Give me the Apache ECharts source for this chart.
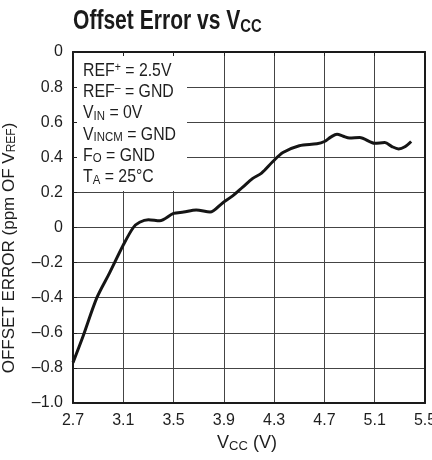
<!DOCTYPE html>
<html><head><meta charset="utf-8">
<script src="https://cdn.jsdelivr.net/npm/echarts@6/dist/echarts.min.js"></script>
<style>html,body{margin:0;padding:0;background:#fff}#c{width:432px;height:460px}</style>
</head><body><div id="c"></div>
<script>
var vcc = [2.70, 2.78, 2.89, 2.99, 3.10, 3.18, 3.23, 3.30, 3.39, 3.50, 3.58, 3.68, 3.79, 3.89, 3.97, 4.05, 4.13, 4.20, 4.29, 4.37, 4.50, 4.64, 4.70, 4.75, 4.80, 4.85, 4.90, 4.98, 5.10, 5.18, 5.24, 5.29, 5.34, 5.39];
var offsetErr = [-0.77, -0.62, -0.40, -0.26, -0.10, 0.00, 0.03, 0.044, 0.038, 0.08, 0.088, 0.10, 0.088, 0.14, 0.18, 0.23, 0.28, 0.31, 0.376, 0.427, 0.466, 0.477, 0.49, 0.515, 0.532, 0.52, 0.51, 0.513, 0.48, 0.484, 0.46, 0.448, 0.46, 0.49];
var xTickLabels = ['2.7','3.1','3.5','3.9','4.3','4.7','5.1','5.5'];
var yTickLabels = ['–1.0','–0.8','–0.6','–0.4','–0.2','0','0.2','0.4','0.6','0.8','0'];
var X0 = 2.7;
var FF = "'Liberation Sans',Arial,Helvetica,sans-serif";
var TXT = '#1e1e1e';
var chart = echarts.init(document.getElementById('c'), null, {renderer:'canvas'});
var pts = vcc.map(function(v,i){return [v - X0, offsetErr[i]];});
var gridLine = {show:true, lineStyle:{color:'#444', width:1}};
var frame = {show:true, onZero:false, lineStyle:{color:'#1a1a1a', width:2}};
var option = {
  animation:false,
  grid:{left:73, right:7, top:52, bottom:57, outerBoundsMode:'none', containLabel:false},
  xAxis:[{
    type:'value', min:0, max:2.8, interval:0.4,
    axisLine:frame, axisTick:{show:false}, splitLine:gridLine,
    axisLabel:{color:TXT, fontFamily:FF, fontSize:16, margin:10,
      formatter:function(v){return xTickLabels[Math.round(v/0.4)];}}
  },{
    type:'value', min:0, max:2.8, interval:0.4, position:'top', z:10,
    axisLine:frame,
    axisTick:{show:true, inside:true, length:4, lineStyle:{color:'#222'}},
    splitLine:{show:false}, axisLabel:{show:false}
  }],
  yAxis:[{
    type:'value', min:-1, max:1, interval:0.2,
    axisLine:{show:false}, axisTick:{show:false}, splitLine:gridLine,
    axisLabel:{color:TXT, fontFamily:FF, fontSize:16, margin:10,
      formatter:function(v){return yTickLabels[Math.round((v+1)/0.2)];}}
  },{
    type:'value', min:-1, max:1, interval:0.2, position:'left', z:10,
    axisLine:frame,
    axisTick:{show:true, inside:true, length:4, lineStyle:{color:'#222'}},
    splitLine:{show:false}, axisLabel:{show:false}
  },{
    type:'value', min:-1, max:1, interval:0.2, position:'right', z:10,
    axisLine:frame, axisTick:{show:false}, splitLine:{show:false}, axisLabel:{show:false}
  }],
  graphic:[{
    type:'rect', x:74, y:53, z:5,
    shape:{width:113, height:138}, style:{fill:'#fff'}
  },{
    type:'text', x:83, y:60.5, z:6, scaleX:0.88,
    style:{
      text:'REF{p|+} = 2.5V\nREF{p|–} = GND\nV{s|IN} = 0V\nV{s|INCM} = GND\nF{s|O} = GND\nT{s|A} = 25°C',
      fontFamily:FF, fontSize:18, lineHeight:21.2, fill:TXT, verticalAlign:'top',
      rich:{
        s:{fontFamily:FF, fontSize:13, fill:TXT, padding:[0,0,-6,0]},
        p:{fontFamily:FF, fontSize:12, fill:TXT, padding:[-7,0,0,0]}
      }
    }
  },{
    type:'text', x:73, y:22, scaleX:0.78,
    style:{
      text:'Offset Error vs V{s|CC}', fontFamily:FF, fontWeight:'bold', fontSize:27,
      fill:'#1a1a1a', verticalAlign:'middle',
      rich:{s:{fontFamily:FF, fontWeight:'bold', fontSize:19, fill:'#1a1a1a', padding:[0,0,-9,0]}}
    }
  },{
    type:'text', x:247, y:443,
    style:{
      text:'V{s|CC} (V)', fontFamily:FF, fontSize:18, fill:TXT, align:'center', verticalAlign:'middle',
      rich:{s:{fontFamily:FF, fontSize:13, fill:TXT, padding:[0,0,-6,0]}}
    }
  },{
    type:'text', x:9, y:248, rotation:Math.PI/2,
    style:{
      text:'OFFSET ERROR (ppm OF V{s|REF})', fontFamily:FF, fontSize:17, fill:TXT, align:'center', verticalAlign:'middle',
      rich:{s:{fontFamily:FF, fontSize:12, fill:TXT, padding:[0,0,-6,0]}}
    }
  }],
  series:[{
    type:'line', xAxisIndex:0, yAxisIndex:0, data:pts, smooth:0.3, showSymbol:false, z:8,
    lineStyle:{color:'#151515', width:3}
  }]
};
chart.setOption(option);
</script></body></html>
